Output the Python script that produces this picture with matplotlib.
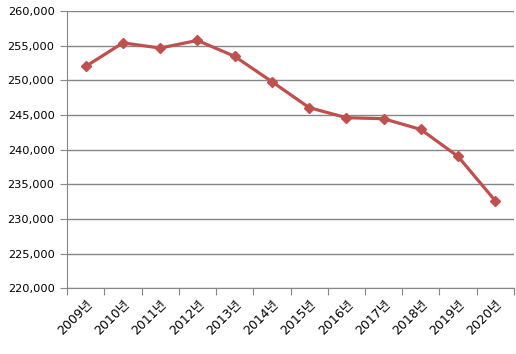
import matplotlib
matplotlib.use('Agg')
import matplotlib.pyplot as plt
import numpy as np
from matplotlib.ticker import FuncFormatter

plt.rcParams['font.family'] = ['DejaVu Sans', 'Noto Sans CJK KR']

years = ['2009년', '2010년', '2011년', '2012년', '2013년', '2014년',
         '2015년', '2016년', '2017년', '2018년', '2019년', '2020년']
values = [252000, 255400, 254650, 255750, 253450, 249800,
          246050, 244600, 244450, 242900, 239000, 232600]

fig = plt.figure(figsize=(5.16, 3.54), dpi=100)
ax = fig.add_axes([0.130, 0.186, 0.866, 0.783])

x = np.arange(len(years))
ax.plot(x, values, color='#C0504D', linewidth=2.3, marker='D', markersize=5.5)

ax.set_xlim(-0.5, len(years) - 0.5)
ax.set_ylim(220000, 260000)
ax.set_yticks(np.arange(220000, 260001, 5000))
ax.yaxis.set_major_formatter(FuncFormatter(lambda v, p: f'{int(v):,}'))
ax.grid(axis='y', color='#868686', linewidth=1)
ax.set_axisbelow(True)

# ticks at category boundaries, labels at centres
ax.set_xticks(np.arange(-0.5, len(years), 1))
ax.set_xticklabels([])
ax.set_xticks(x, minor=True)
ax.set_xticklabels(years, minor=True, rotation=45, ha='right',
                   rotation_mode='anchor', fontsize=9)
ax.tick_params(axis='x', which='minor', length=0, pad=7)
ax.tick_params(axis='x', which='major', length=5, color='#868686')
ax.tick_params(axis='y', length=5, color='#868686', labelsize=8.2, pad=4)

for s in ['top', 'right']:
    ax.spines[s].set_visible(False)
for s in ['left', 'bottom']:
    ax.spines[s].set_color('#868686')

fig.savefig('out.png', dpi=100)
